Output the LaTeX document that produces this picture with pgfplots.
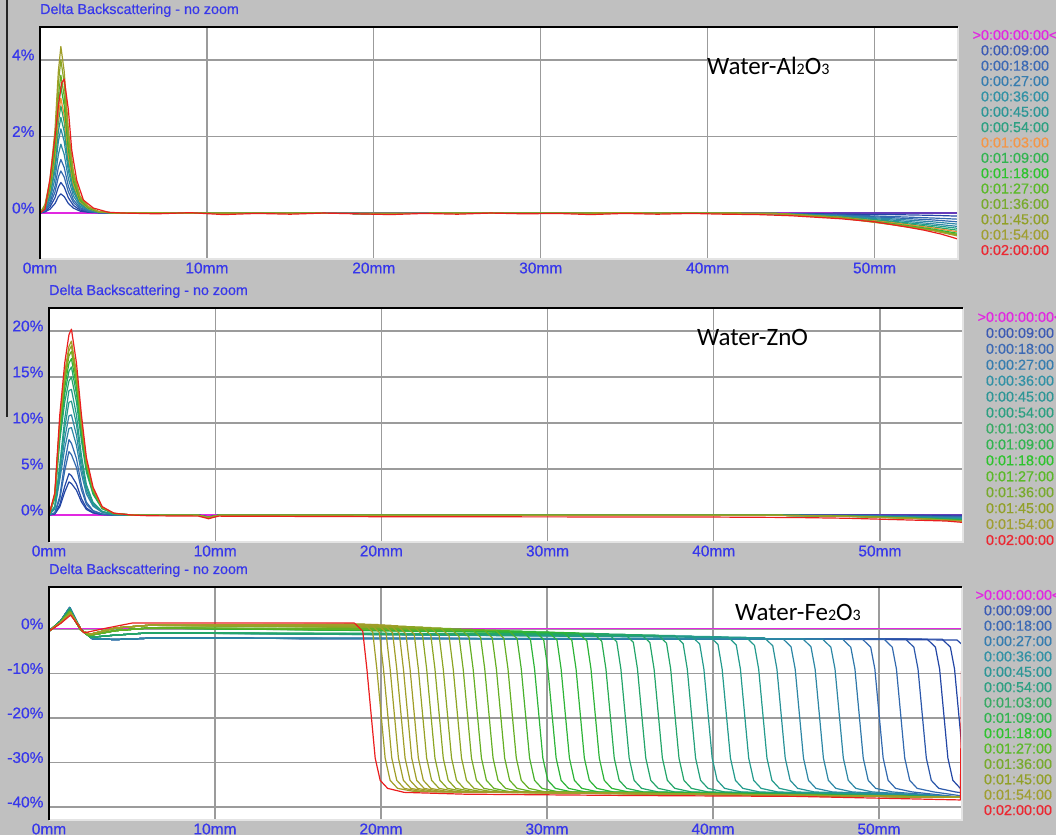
\documentclass[border=0pt]{standalone}
\usepackage{pgfplots}
\pgfplotsset{compat=1.18}
\usepackage{fontspec}
\setmainfont{Liberation Sans}[FakeBold=0.5]
\newfontfamily\calib{Carlito}

\definecolor{bg}{RGB}{192,192,192}
\definecolor{tickblue}{RGB}{55,55,235}
\definecolor{gridgray}{RGB}{155,155,155}
\definecolor{framelight}{RGB}{228,228,228}
\definecolor{cM}{RGB}{225,40,225}
\definecolor{cA}{RGB}{35,70,165}
\definecolor{cB}{RGB}{50,105,175}
\definecolor{cC}{RGB}{45,135,165}
\definecolor{cD}{RGB}{35,155,140}
\definecolor{cE}{RGB}{35,165,105}
\definecolor{cF}{RGB}{45,180,55}
\definecolor{cG}{RGB}{100,175,35}
\definecolor{cH}{RGB}{140,165,35}
\definecolor{cI}{RGB}{160,158,40}
\definecolor{cR}{RGB}{235,30,30}
\definecolor{cO}{RGB}{240,140,50}
% legend text colours
\definecolor{leg0}{RGB}{225,40,225}
\definecolor{leg1}{RGB}{60,90,180}
\definecolor{leg2}{RGB}{60,105,180}
\definecolor{leg3}{RGB}{55,125,175}
\definecolor{leg4}{RGB}{50,145,165}
\definecolor{leg5}{RGB}{45,150,150}
\definecolor{leg6}{RGB}{45,160,130}
\definecolor{leg7}{RGB}{55,170,100}
\definecolor{leg7o}{RGB}{245,150,70}
\definecolor{leg8}{RGB}{50,180,80}
\definecolor{leg9}{RGB}{45,195,45}
\definecolor{leg10}{RGB}{90,185,40}
\definecolor{leg11}{RGB}{120,170,45}
\definecolor{leg12}{RGB}{145,160,40}
\definecolor{leg13}{RGB}{160,158,50}
\definecolor{leg14}{RGB}{235,40,50}

\newcommand\sub[1]{{\fontsize{16}{16}\selectfont #1}}
\newcommand\legfont{\fontsize{14.4}{14.4}\selectfont}
% #1 x centre, #2 y of first entry, #3 step, #4 colour of 0:01:03:00
\newcommand\legendat[4]{%
  \foreach \t/\c [count=\i from 0] in {>0:00:00:00</leg0,0:00:09:00/leg1,0:00:18:00/leg2,0:00:27:00/leg3,0:00:36:00/leg4,0:00:45:00/leg5,0:00:54:00/leg6,0:01:03:00/#4,0:01:09:00/leg8,0:01:18:00/leg9,0:01:27:00/leg10,0:01:36:00/leg11,0:01:45:00/leg12,0:01:54:00/leg13,0:02:00:00/leg14}{%
    \node[text=\c, font=\legfont, inner sep=0pt] at (#1pt,{#2pt-\i*#3pt}) {\t};
  }%
}
\newcommand\frameit[1]{%
  \draw[framelight, line width=1.5pt] (#1.south west) -- (#1.south east) -- (#1.north east);
  \draw[black, line width=2pt] (#1.south west) -- (#1.north west) -- (#1.north east);
}

\pgfplotsset{
  panel/.style={
    scale only axis, anchor=south west,
    xmin=0, xmax=55,
    axis line style={draw=none},
    axis background/.style={fill=white},
    grid=major,
    grid style={draw=gridgray, line width=1.3pt},
    major tick length=0pt,
    xtick={0,10,20,30,40,50},
    xticklabels={0mm,10mm,20mm,30mm,40mm,50mm},
    tick label style={font=\fontsize{15.5}{15.5}\selectfont, text=tickblue},
    yticklabel style={xshift=-2pt, yshift=5pt},
    title={Delta Backscattering - no zoom},
    title style={at={(0,1)}, anchor=base west, yshift=7pt, inner sep=0pt,
                 font=\fontsize{14.3}{14.3}\selectfont, text=tickblue},
    every axis plot/.append style={line width=1.2pt, mark=none, line join=round},
  },
}

\begin{document}
\begin{tikzpicture}
\useasboundingbox (0,0) rectangle (1056pt,835pt);
\clip (0,0) rectangle (1056pt,835pt);
\fill[bg] (0,0) rectangle (1056pt,835pt);
\draw[line width=2pt, black!85] (7pt,835pt) -- (7pt,418pt);

%================ Panel 1 : Water-Al2O3 =================
\begin{axis}[panel, name=ax1, at={(40pt,576pt)}, width=918pt, height=232pt,
  ymin=-1.2, ymax=4.86, ytick={0,2,4}, yticklabels={0\%,2\%,4\%}]
\addplot[cM] coordinates {(0,0)(55,0)};
\addplot[cA] coordinates {(0,0)(0.3,0.03)(0.6,0.1)(0.9,0.25)(1.1,0.43)(1.25,0.5)(1.45,0.43)(1.7,0.25)(2.0,0.13)(2.4,0.05)(2.9,0.02)(3.5,0.01)(4.5,0)(6,0)(20,-0.01)(35,0)(44,-0.01)(48,0)(51,0)(53.5,0)(55,0)};
\addplot[cA] coordinates {(0,0)(0.3,0.04)(0.6,0.16)(0.9,0.4)(1.1,0.68)(1.25,0.8)(1.45,0.68)(1.7,0.4)(2.0,0.2)(2.4,0.08)(2.9,0.03)(3.5,0.01)(4.5,0)(6,0)(20,-0.01)(35,0)(44,-0.01)(48,-0.03)(51,-0.04)(53.5,-0.06)(55,-0.08)};
\addplot[cB] coordinates {(0,0)(0.3,0.06)(0.6,0.22)(0.9,0.55)(1.1,0.94)(1.25,1.1)(1.45,0.94)(1.7,0.55)(2.0,0.28)(2.4,0.11)(2.9,0.04)(3.5,0.01)(4.5,0)(6,0)(20,-0.01)(35,0)(44,-0.01)(48,-0.05)(51,-0.09)(53.5,-0.13)(55,-0.16)};
\addplot[cB] coordinates {(0,0)(0.3,0.07)(0.6,0.28)(0.9,0.7)(1.1,1.19)(1.25,1.4)(1.45,1.19)(1.7,0.7)(2.0,0.35)(2.4,0.14)(2.9,0.06)(3.5,0.01)(4.5,0)(6,0)(20,-0.01)(35,0)(44,-0.01)(48,-0.06)(51,-0.12)(53.5,-0.18)(55,-0.23)};
\addplot[cC] coordinates {(0,0)(0.3,0.09)(0.6,0.36)(0.9,0.9)(1.1,1.53)(1.25,1.8)(1.45,1.53)(1.7,0.9)(2.0,0.45)(2.4,0.18)(2.9,0.07)(3.5,0.02)(4.5,0)(6,0)(20,-0.01)(35,0)(44,-0.01)(48,-0.07)(51,-0.15)(53.5,-0.23)(55,-0.29)};
\addplot[cC] coordinates {(0,0)(0.3,0.11)(0.6,0.44)(0.9,1.1)(1.1,1.87)(1.25,2.2)(1.45,1.87)(1.7,1.1)(2.0,0.55)(2.4,0.22)(2.9,0.09)(3.5,0.02)(4.5,0)(6,0)(20,-0.01)(35,0)(44,-0.01)(48,-0.08)(51,-0.18)(53.5,-0.28)(55,-0.35)};
\addplot[cD] coordinates {(0,0)(0.3,0.13)(0.6,0.5)(0.9,1.25)(1.1,2.13)(1.25,2.5)(1.45,2.13)(1.7,1.25)(2.0,0.63)(2.4,0.25)(2.9,0.1)(3.5,0.03)(4.5,0)(6,0)(20,-0.01)(35,0)(44,-0.01)(48,-0.09)(51,-0.21)(53.5,-0.32)(55,-0.4)};
\addplot[cE] coordinates {(0,0)(0.3,0.14)(0.6,0.56)(0.9,1.4)(1.1,2.38)(1.25,2.8)(1.45,2.38)(1.7,1.4)(2.0,0.7)(2.4,0.28)(2.9,0.11)(3.5,0.03)(4.5,0)(6,0)(20,-0.01)(35,0)(44,-0.01)(48,-0.1)(51,-0.23)(53.5,-0.36)(55,-0.45)};
\addplot[cO] coordinates {(0,0)(0.3,0.15)(0.6,0.6)(0.9,1.5)(1.1,2.55)(1.25,3.0)(1.45,2.55)(1.7,1.5)(2.0,0.75)(2.4,0.3)(2.9,0.12)(3.5,0.03)(4.5,0)(6,0)(20,-0.01)(35,0)(44,-0.01)(48,-0.11)(51,-0.25)(53.5,-0.39)(55,-0.49)};
\addplot[cF] coordinates {(0,0)(0.3,0.17)(0.6,0.66)(0.9,1.65)(1.1,2.81)(1.25,3.3)(1.45,2.81)(1.7,1.65)(2.0,0.83)(2.4,0.33)(2.9,0.13)(3.5,0.03)(4.5,0)(6,0)(20,-0.01)(35,0)(44,-0.01)(48,-0.12)(51,-0.27)(53.5,-0.42)(55,-0.53)};
\addplot[cG] coordinates {(0,0)(0.3,0.18)(0.6,0.72)(0.9,1.8)(1.1,3.06)(1.25,3.6)(1.45,3.06)(1.7,1.8)(2.0,0.9)(2.4,0.36)(2.9,0.14)(3.5,0.04)(4.5,0)(6,0)(20,-0.01)(35,0)(44,-0.01)(48,-0.12)(51,-0.28)(53.5,-0.44)(55,-0.56)};
\addplot[cH] coordinates {(0,0)(0.3,0.2)(0.6,0.8)(0.9,2.0)(1.1,3.4)(1.25,4.0)(1.45,3.4)(1.7,2.0)(2.0,1.0)(2.4,0.4)(2.9,0.16)(3.5,0.04)(4.5,0)(6,0)(20,-0.01)(35,0)(44,-0.01)(48,-0.13)(51,-0.29)(53.5,-0.45)(55,-0.58)};
\addplot[cI] coordinates {(0,0)(0.3,0.22)(0.6,0.87)(0.9,2.18)(1.1,3.7)(1.25,4.35)(1.45,3.7)(1.7,2.18)(2.0,1.09)(2.4,0.44)(2.9,0.17)(3.5,0.04)(4.5,0)(6,0)(20,-0.01)(35,0)(44,-0.01)(48,-0.13)(51,-0.3)(53.5,-0.46)(55,-0.6)};
\addplot[cR] coordinates {(0,0)(0.3,0.1)(0.6,0.9)(0.9,2.0)(1.1,2.8)(1.3,3.4)(1.45,3.5)(1.7,2.7)(1.9,1.65)(2.2,0.86)(2.6,0.34)(3.2,0.13)(4.1,0.02)(5,0)(7,-0.02)(9,0.01)(11,-0.04)(13,-0.01)(15,-0.03)(17,0)(19,-0.02)(21,-0.04)(23,-0.01)(25,-0.03)(27,0)(29,-0.02)(31,-0.01)(33,-0.04)(35,-0.01)(37,-0.03)(39,-0.01)(41,-0.03)(43,-0.04)(45,-0.07)(48,-0.15)(50,-0.23)(52,-0.37)(53,-0.45)(54,-0.55)(55,-0.68)};
\end{axis}
\frameit{ax1}
\node[anchor=base west, font=\calib\fontsize{25}{25}\selectfont, inner sep=0pt] at (707pt,760pt) {Water-Al\sub{2}O\sub{3}};
\legendat{1015}{800}{15.36}{leg7o}

%================ Panel 2 : Water-ZnO =================
\begin{axis}[panel, name=ax2, at={(49pt,293pt)}, width=914pt, height=234pt,
  ymin=-2.93, ymax=22.5, ytick={0,5,10,15,20}, yticklabels={0\%,5\%,10\%,15\%,20\%}]
\addplot[cM] coordinates {(0,0)(55,0)};
\addplot[cA] coordinates {(0,0)(0.35,0.11)(0.65,0.9)(0.95,2.52)(1.2,3.6)(1.35,3.42)(1.65,2.7)(1.95,1.44)(2.25,0.61)(2.65,0.22)(3.2,0.05)(3.9,0)(5,0)(6,0)(9,0)(9.6,-0.2)(10.2,0)(15,0)(25,0)(35,0)(44,0)(48,0)(52,0)(55,0)};
\addplot[cA] coordinates {(0,0)(0.35,0.14)(0.65,1.13)(0.95,3.15)(1.2,4.5)(1.35,4.28)(1.65,3.38)(1.95,1.8)(2.25,0.77)(2.65,0.27)(3.2,0.07)(3.9,0)(5,0)(6,0)(9,0)(9.6,-0.2)(10.2,0)(15,0)(25,0)(35,0)(44,0)(48,-0.02)(52,-0.05)(55,-0.1)};
\addplot[cB] coordinates {(0,0)(0.35,0.21)(0.65,1.73)(0.95,4.83)(1.2,6.9)(1.35,6.56)(1.65,5.18)(1.95,2.76)(2.25,1.17)(2.65,0.41)(3.2,0.1)(3.9,0)(5,0)(6,-0.02)(9,-0.03)(9.6,-0.25)(10.2,-0.03)(15,-0.02)(25,-0.03)(35,-0.03)(44,-0.03)(48,-0.05)(52,-0.12)(55,-0.18)};
\addplot[cB] coordinates {(0,0)(0.35,0.25)(0.65,2.05)(0.95,5.74)(1.2,8.2)(1.35,7.79)(1.65,6.15)(1.95,3.28)(2.25,1.39)(2.65,0.49)(3.2,0.12)(3.9,0)(5,0)(6,-0.02)(9,-0.03)(9.6,-0.25)(10.2,-0.03)(15,-0.02)(25,-0.03)(35,-0.03)(44,-0.03)(48,-0.06)(52,-0.15)(55,-0.24)};
\addplot[cC] coordinates {(0,0)(0.35,0.67)(0.65,3.84)(0.95,7.3)(1.2,9.41)(1.35,9.5)(1.65,7.58)(1.95,4.51)(2.25,2.3)(2.65,0.96)(3.2,0.29)(3.9,0.05)(5,0)(6,-0.02)(9,-0.03)(9.6,-0.25)(10.2,-0.03)(15,-0.02)(25,-0.03)(35,-0.03)(44,-0.03)(48,-0.07)(52,-0.18)(55,-0.3)};
\addplot[cC] coordinates {(0,0)(0.35,0.77)(0.65,4.4)(0.95,8.36)(1.2,10.78)(1.35,10.89)(1.65,8.69)(1.95,5.17)(2.25,2.64)(2.65,1.1)(3.2,0.33)(3.9,0.06)(5,0)(6,-0.02)(9,-0.03)(9.6,-0.25)(10.2,-0.03)(15,-0.02)(25,-0.03)(35,-0.03)(44,-0.03)(48,-0.08)(52,-0.21)(55,-0.36)};
\addplot[cD] coordinates {(0,0)(0.35,0.88)(0.65,5.0)(0.95,9.5)(1.2,12.25)(1.35,12.38)(1.65,9.88)(1.95,5.88)(2.25,3.0)(2.65,1.25)(3.2,0.38)(3.9,0.06)(5,0)(6,-0.02)(9,-0.03)(9.6,-0.25)(10.2,-0.03)(15,-0.02)(25,-0.03)(35,-0.03)(44,-0.03)(48,-0.09)(52,-0.24)(55,-0.42)};
\addplot[cD] coordinates {(0,0)(0.35,0.97)(0.65,5.52)(0.95,10.49)(1.2,13.52)(1.35,13.66)(1.65,10.9)(1.95,6.49)(2.25,3.31)(2.65,1.38)(3.2,0.41)(3.9,0.07)(5,0)(6,-0.02)(9,-0.03)(9.6,-0.25)(10.2,-0.03)(15,-0.02)(25,-0.03)(35,-0.03)(44,-0.03)(48,-0.1)(52,-0.27)(55,-0.47)};
\addplot[cE] coordinates {(0,0)(0.35,1.8)(0.65,8.1)(0.95,12.3)(1.2,14.55)(1.35,15)(1.65,12.3)(1.95,8.1)(2.25,4.65)(2.65,2.25)(3.2,0.68)(3.9,0.15)(5,0)(6,-0.02)(9,-0.03)(9.6,-0.25)(10.2,-0.03)(15,-0.02)(25,-0.03)(35,-0.03)(44,-0.03)(48,-0.11)(52,-0.3)(55,-0.52)};
\addplot[cE] coordinates {(0,0)(0.35,1.93)(0.65,8.69)(0.95,13.2)(1.2,15.62)(1.35,16.1)(1.65,13.2)(1.95,8.69)(2.25,4.99)(2.65,2.42)(3.2,0.72)(3.9,0.16)(5,0)(6,-0.02)(9,-0.03)(9.6,-0.25)(10.2,-0.03)(15,-0.02)(25,-0.03)(35,-0.03)(44,-0.03)(48,-0.12)(52,-0.32)(55,-0.56)};
\addplot[cF] coordinates {(0,0)(0.35,2.04)(0.65,9.18)(0.95,13.94)(1.2,16.49)(1.35,17)(1.65,13.94)(1.95,9.18)(2.25,5.27)(2.65,2.55)(3.2,0.77)(3.9,0.17)(5,0)(6,-0.02)(9,-0.03)(9.6,-0.25)(10.2,-0.03)(15,-0.02)(25,-0.03)(35,-0.03)(44,-0.03)(48,-0.13)(52,-0.34)(55,-0.6)};
\addplot[cG] coordinates {(0,0)(0.35,2.14)(0.65,9.61)(0.95,14.6)(1.2,17.27)(1.35,17.8)(1.65,14.6)(1.95,9.61)(2.25,5.52)(2.65,2.67)(3.2,0.8)(3.9,0.18)(5,0)(6,-0.02)(9,-0.03)(9.6,-0.25)(10.2,-0.03)(15,-0.02)(25,-0.03)(35,-0.03)(44,-0.03)(48,-0.13)(52,-0.35)(55,-0.62)};
\addplot[cH] coordinates {(0,0)(0.35,2.21)(0.65,9.94)(0.95,15.09)(1.2,17.85)(1.35,18.4)(1.65,15.09)(1.95,9.94)(2.25,5.7)(2.65,2.76)(3.2,0.83)(3.9,0.18)(5,0)(6,-0.02)(9,-0.03)(9.6,-0.25)(10.2,-0.03)(15,-0.02)(25,-0.03)(35,-0.03)(44,-0.03)(48,-0.14)(52,-0.36)(55,-0.64)};
\addplot[cI] coordinates {(0,0)(0.35,2.27)(0.65,10.21)(0.95,15.5)(1.2,18.33)(1.35,18.9)(1.65,15.5)(1.95,10.21)(2.25,5.86)(2.65,2.84)(3.2,0.85)(3.9,0.19)(5,0)(6,-0.02)(9,-0.03)(9.6,-0.25)(10.2,-0.03)(15,-0.02)(25,-0.03)(35,-0.03)(44,-0.03)(48,-0.14)(52,-0.37)(55,-0.66)};
\addplot[cR] coordinates {(0,0)(0.35,2.42)(0.65,10.91)(0.95,16.56)(1.2,19.59)(1.35,20.2)(1.65,16.56)(1.95,10.91)(2.25,6.26)(2.65,3.03)(3.2,0.91)(3.9,0.2)(5,0)(6,-0.08)(9,-0.12)(9.6,-0.4)(10.2,-0.12)(20,-0.18)(30,-0.2)(40,-0.22)(45,-0.27)(48,-0.35)(52,-0.55)(54,-0.65)(55,-0.8)};
\end{axis}
\frameit{ax2}
\node[anchor=base west, font=\calib\fontsize{25}{25}\selectfont, inner sep=0pt] at (697pt,489pt) {Water-ZnO};
\legendat{1020}{518}{15.93}{leg7}

%================ Panel 3 : Water-Fe2O3 =================
\begin{axis}[panel, name=ax3, at={(49pt,15pt)}, width=913pt, height=233pt,
  ymin=-42.9, ymax=9.4, ytick={-40,-30,-20,-10,0}, yticklabels={-40\%,-30\%,-20\%,-10\%,0\%}]
\addplot[cM] coordinates {(0,0)(55,0)};
% earliest scan, front not yet in range
\addplot[cA] coordinates {(0,-0.5)(0.7,1.8)(1.25,4.8)(1.9,0)(2.6,-2.2)(4,-2.4)(6,-2.1)(30,-2.2)(45,-2.3)(54.7,-2.5)(55,-3.5)};
% blue group
\addplot[cA] coordinates {(0,-0.5)(0.7,1.8)(1.25,4.8)(1.9,0)(2.6,-2.2)(4,-2.4)(6,-2.1)(53.8,-2.3)(54.3,-4.1)(54.55,-9)(54.8,-19)(55,-27)};
\addplot[cA] coordinates {(0,-0.5)(0.7,1.8)(1.25,4.8)(1.9,0)(2.6,-2.2)(4,-2.4)(6,-2.1)(52.9,-2.3)(53.4,-4.1)(53.65,-9)(53.9,-19)(54.15,-29)(54.45,-34)(54.9,-35.8)(55,-36)};
\addplot[cA!50!cB] coordinates {(0,-0.5)(0.7,1.8)(1.25,4.8)(1.9,0)(2.6,-2.2)(4,-2.4)(6,-2.1)(51.6,-2.3)(52.1,-4.1)(52.35,-9)(52.6,-19)(52.85,-29)(53.15,-34)(53.6,-35.8)(54.6,-36.6)(55,-36.8)};
\addplot[cB] coordinates {(0,-0.5)(0.7,1.8)(1.25,4.8)(1.9,0)(2.6,-2.2)(4,-2.4)(6,-2.1)(50.3,-2.3)(50.8,-4.1)(51.05,-9)(51.3,-19)(51.55,-29)(51.85,-34)(52.3,-35.8)(53.3,-36.6)(55,-37.5)};
\addplot[cB] coordinates {(0,-0.5)(0.7,1.8)(1.25,4.8)(1.9,0)(2.6,-2.2)(4,-2.4)(6,-2.1)(49,-2.3)(49.5,-4.1)(49.75,-9)(50,-19)(50.25,-29)(50.55,-34)(51,-35.8)(52,-36.6)(55,-37.8)};
\addplot[cB!50!cC] coordinates {(0,-0.5)(0.7,1.8)(1.25,4.8)(1.9,0)(2.6,-2.2)(4,-2.4)(6,-2.1)(47.8,-2.3)(48.3,-4.1)(48.55,-9)(48.8,-19)(49.05,-29)(49.35,-34)(49.8,-35.8)(50.8,-36.6)(55,-37.8)};
\addplot[cC] coordinates {(0,-0.5)(0.7,1.8)(1.25,4.8)(1.9,0)(2.6,-2.2)(4,-2.4)(6,-2.1)(46.6,-2.3)(47.1,-4.1)(47.35,-9)(47.6,-19)(47.85,-29)(48.15,-34)(48.6,-35.8)(49.6,-36.6)(55,-37.8)};
\addplot[cC] coordinates {(0,-0.5)(0.7,1.8)(1.25,4.8)(1.9,0)(2.6,-2.2)(4,-2.4)(6,-2.1)(45.4,-2.2)(45.9,-4.0)(46.15,-9)(46.4,-19)(46.65,-29)(46.95,-34)(47.4,-35.8)(48.4,-36.6)(55,-37.8)};
\addplot[cC] coordinates {(0,-0.5)(0.7,1.8)(1.25,4.8)(1.9,0)(2.6,-2.2)(4,-2.4)(6,-2.1)(44.2,-2.2)(44.7,-4.0)(44.95,-9)(45.2,-19)(45.45,-29)(45.75,-34)(46.2,-35.8)(47.2,-36.6)(55,-37.8)};
% teal group
\addplot[cC!50!cD] coordinates {(0,-0.5)(0.7,1.7)(1.25,4.4)(1.9,-0.1)(2.5,-1.9)(4,-1.4)(6,-0.9)(43.1,-2.0)(43.6,-3.8)(43.85,-9)(44.1,-19)(44.35,-29)(44.65,-34)(45.1,-35.8)(46.1,-36.6)(55,-37.8)};
\addplot[cD] coordinates {(0,-0.5)(0.7,1.7)(1.25,4.4)(1.9,-0.1)(2.5,-1.9)(4,-1.4)(6,-0.9)(42,-1.9)(42.5,-3.7)(42.75,-9)(43,-19)(43.25,-29)(43.55,-34)(44,-35.8)(45,-36.6)(55,-37.8)};
\addplot[cD] coordinates {(0,-0.5)(0.7,1.7)(1.25,4.4)(1.9,-0.1)(2.5,-1.9)(4,-1.4)(6,-0.9)(40.9,-1.8)(41.4,-3.6)(41.65,-9)(41.9,-19)(42.15,-29)(42.45,-34)(42.9,-35.8)(43.9,-36.6)(55,-37.8)};
\addplot[cD] coordinates {(0,-0.5)(0.7,1.7)(1.25,4.4)(1.9,-0.1)(2.5,-1.9)(4,-1.4)(6,-0.9)(39.8,-1.7)(40.3,-3.5)(40.55,-9)(40.8,-19)(41.05,-29)(41.35,-34)(41.8,-35.8)(42.8,-36.6)(55,-37.8)};
\addplot[cD] coordinates {(0,-0.5)(0.7,1.7)(1.25,4.4)(1.9,-0.1)(2.5,-1.9)(4,-1.4)(6,-0.9)(38.7,-1.6)(39.2,-3.4)(39.45,-9)(39.7,-19)(39.95,-29)(40.25,-34)(40.7,-35.8)(41.7,-36.6)(55,-37.8)};
\addplot[cD!50!cE] coordinates {(0,-0.5)(0.7,1.7)(1.25,4.4)(1.9,-0.1)(2.5,-1.9)(4,-1.4)(6,-0.9)(37.7,-1.5)(38.2,-3.3)(38.45,-9)(38.7,-19)(38.95,-29)(39.25,-34)(39.7,-35.8)(40.7,-36.6)(55,-37.8)};
\addplot[cE] coordinates {(0,-0.5)(0.7,1.7)(1.25,4.4)(1.9,-0.1)(2.5,-1.9)(4,-1.4)(6,-0.9)(36.7,-1.4)(37.2,-3.2)(37.45,-9)(37.7,-19)(37.95,-29)(38.25,-34)(38.7,-35.8)(39.7,-36.6)(55,-37.8)};
\addplot[cE] coordinates {(0,-0.5)(0.7,1.7)(1.25,4.4)(1.9,-0.1)(2.5,-1.9)(4,-1.4)(6,-0.9)(35.7,-1.3)(36.2,-3.1)(36.45,-9)(36.7,-19)(36.95,-29)(37.25,-34)(37.7,-35.8)(38.7,-36.6)(55,-37.8)};
\addplot[cE] coordinates {(0,-0.5)(0.7,1.7)(1.25,4.4)(1.9,-0.1)(2.5,-1.9)(4,-1.4)(6,-0.9)(34.7,-1.2)(35.2,-3.0)(35.45,-9)(35.7,-19)(35.95,-29)(36.25,-34)(36.7,-35.8)(37.7,-36.6)(55,-37.8)};
\addplot[cE] coordinates {(0,-0.5)(0.7,1.7)(1.25,4.4)(1.9,-0.1)(2.5,-1.9)(4,-1.4)(6,-0.9)(33.7,-1.1)(34.2,-2.9)(34.45,-9)(34.7,-19)(34.95,-29)(35.25,-34)(35.7,-35.8)(36.7,-36.6)(55,-37.8)};
% green group
\addplot[cE!50!cF] coordinates {(0,-0.5)(0.7,1.5)(1.25,3.9)(1.9,-0.2)(2.4,-1.5)(4,-0.4)(6,0.2)(32.8,-1.0)(33.3,-2.8)(33.55,-9)(33.8,-19)(34.05,-29)(34.35,-34)(34.8,-35.8)(35.8,-36.6)(55,-37.8)};
\addplot[cF] coordinates {(0,-0.5)(0.7,1.5)(1.25,3.9)(1.9,-0.2)(2.4,-1.5)(4,-0.4)(6,0.2)(31.9,-0.9)(32.4,-2.7)(32.65,-9)(32.9,-19)(33.15,-29)(33.45,-34)(33.9,-35.8)(34.9,-36.6)(55,-37.8)};
\addplot[cF] coordinates {(0,-0.5)(0.7,1.5)(1.25,3.9)(1.9,-0.2)(2.4,-1.5)(4,-0.4)(6,0.2)(31,-0.8)(31.5,-2.6)(31.75,-9)(32,-19)(32.25,-29)(32.55,-34)(33,-35.8)(34,-36.6)(55,-37.8)};
\addplot[cF] coordinates {(0,-0.5)(0.7,1.5)(1.25,3.9)(1.9,-0.2)(2.4,-1.5)(4,-0.4)(6,0.2)(30.1,-0.7)(30.6,-2.5)(30.85,-9)(31.1,-19)(31.35,-29)(31.65,-34)(32.1,-35.8)(33.1,-36.6)(55,-37.8)};
\addplot[cF] coordinates {(0,-0.5)(0.7,1.5)(1.25,3.9)(1.9,-0.2)(2.4,-1.5)(4,-0.4)(6,0.2)(29.3,-0.6)(29.8,-2.4)(30.05,-9)(30.3,-19)(30.55,-29)(30.85,-34)(31.3,-35.8)(32.3,-36.6)(55,-37.8)};
\addplot[cF] coordinates {(0,-0.5)(0.7,1.5)(1.25,3.9)(1.9,-0.2)(2.4,-1.5)(4,-0.4)(6,0.2)(28.5,-0.5)(29,-2.3)(29.25,-9)(29.5,-19)(29.75,-29)(30.05,-34)(30.5,-35.8)(31.5,-36.6)(55,-37.8)};
\addplot[cF!50!cG] coordinates {(0,-0.5)(0.7,1.5)(1.25,3.9)(1.9,-0.2)(2.4,-1.5)(4,-0.4)(6,0.2)(27.7,-0.4)(28.2,-2.2)(28.45,-9)(28.7,-19)(28.95,-29)(29.25,-34)(29.7,-35.8)(30.7,-36.6)(55,-37.8)};
\addplot[cG] coordinates {(0,-0.5)(0.7,1.5)(1.25,3.9)(1.9,-0.2)(2.4,-1.5)(4,-0.4)(6,0.2)(26.9,-0.3)(27.4,-2.1)(27.65,-9)(27.9,-19)(28.15,-29)(28.45,-34)(28.9,-35.8)(29.9,-36.6)(55,-37.8)};
\addplot[cG] coordinates {(0,-0.5)(0.7,1.5)(1.25,3.9)(1.9,-0.2)(2.4,-1.5)(4,-0.4)(6,0.2)(26.2,-0.2)(26.7,-2.0)(26.95,-9)(27.2,-19)(27.45,-29)(27.75,-34)(28.2,-35.8)(29.2,-36.6)(55,-37.8)};
\addplot[cG] coordinates {(0,-0.5)(0.7,1.5)(1.25,3.9)(1.9,-0.2)(2.4,-1.5)(4,-0.4)(6,0.2)(25.5,-0.1)(26,-1.9)(26.25,-9)(26.5,-19)(26.75,-29)(27.05,-34)(27.5,-35.8)(28.5,-36.6)(55,-37.8)};
\addplot[cG] coordinates {(0,-0.5)(0.7,1.5)(1.25,3.9)(1.9,-0.2)(2.4,-1.5)(4,-0.4)(6,0.2)(24.8,0)(25.3,-1.8)(25.55,-9)(25.8,-19)(26.05,-29)(26.35,-34)(26.8,-35.8)(27.8,-36.6)(55,-37.8)};
% olive group
\addplot[cG!50!cH] coordinates {(0,-0.5)(0.7,1.4)(1.3,3.6)(2,-0.5)(2.5,-1.2)(4,0.2)(6,0.8)(24.2,0.1)(24.7,-1.7)(24.95,-9)(25.2,-19)(25.45,-29)(25.75,-34)(26.2,-35.8)(27.2,-36.5)(55,-37.8)};
\addplot[cH] coordinates {(0,-0.5)(0.7,1.4)(1.3,3.6)(2,-0.5)(2.5,-1.2)(4,0.2)(6,0.8)(23.6,0.2)(24.1,-1.6)(24.35,-9)(24.6,-19)(24.85,-29)(25.15,-34)(25.6,-35.8)(26.6,-36.5)(55,-37.8)};
\addplot[cH] coordinates {(0,-0.5)(0.7,1.4)(1.3,3.6)(2,-0.5)(2.5,-1.2)(4,0.2)(6,0.8)(23,0.3)(23.5,-1.5)(23.75,-9)(24,-19)(24.25,-29)(24.55,-34)(25,-35.8)(26,-36.5)(55,-37.8)};
\addplot[cH] coordinates {(0,-0.5)(0.7,1.4)(1.3,3.6)(2,-0.5)(2.5,-1.2)(4,0.2)(6,0.8)(22.5,0.4)(23,-1.4)(23.25,-9)(23.5,-19)(23.75,-29)(24.05,-34)(24.5,-35.8)(25.5,-36.5)(55,-37.8)};
\addplot[cH] coordinates {(0,-0.5)(0.7,1.4)(1.3,3.6)(2,-0.5)(2.5,-1.2)(4,0.2)(6,0.8)(22,0.5)(22.5,-1.3)(22.75,-9)(23,-19)(23.25,-29)(23.55,-34)(24,-35.8)(25,-36.5)(55,-37.8)};
\addplot[cH!50!cI] coordinates {(0,-0.5)(0.7,1.4)(1.3,3.6)(2,-0.5)(2.5,-1.2)(4,0.2)(6,0.8)(21.5,0.6)(22,-1.2)(22.25,-9)(22.5,-19)(22.75,-29)(23.05,-34)(23.5,-35.8)(24.5,-36.5)(55,-37.8)};
\addplot[cI] coordinates {(0,-0.5)(0.7,1.4)(1.3,3.6)(2,-0.5)(2.5,-1.2)(4,0.2)(6,0.8)(21,0.7)(21.5,-1.1)(21.75,-9)(22,-19)(22.25,-29)(22.55,-34)(23,-35.8)(24,-36.5)(55,-37.8)};
\addplot[cI] coordinates {(0,-0.5)(0.7,1.4)(1.3,3.6)(2,-0.5)(2.5,-1.2)(4,0.2)(6,0.8)(20.6,0.8)(21.1,-1.0)(21.35,-9)(21.6,-19)(21.85,-29)(22.15,-34)(22.6,-35.8)(23.6,-36.5)(55,-37.8)};
\addplot[cI] coordinates {(0,-0.5)(0.7,1.4)(1.3,3.6)(2,-0.5)(2.5,-1.2)(4,0.2)(6,0.8)(20.2,0.9)(20.7,-0.9)(20.95,-9)(21.2,-19)(21.45,-29)(21.75,-34)(22.2,-35.8)(23.2,-36.5)(55,-37.8)};
\addplot[cI] coordinates {(0,-0.5)(0.7,1.4)(1.3,3.6)(2,-0.5)(2.5,-1.2)(4,0.2)(6,0.8)(19.8,1.0)(20.3,-0.8)(20.55,-9)(20.8,-19)(21.05,-29)(21.35,-34)(21.8,-35.8)(22.8,-36.5)(55,-37.8)};
\addplot[cI] coordinates {(0,-0.5)(0.7,1.4)(1.3,3.6)(2,-0.5)(2.5,-1.2)(4,0.2)(6,0.8)(19.4,1.0)(19.9,-0.8)(20.15,-9)(20.4,-19)(20.65,-29)(20.95,-34)(21.4,-35.8)(22.4,-36.5)(55,-37.8)};
\addplot[cI] coordinates {(0,-0.5)(0.7,1.4)(1.3,3.6)(2,-0.5)(2.5,-1.2)(4,0.2)(6,0.8)(19,1.1)(19.5,-0.7)(19.75,-9)(20,-19)(20.25,-29)(20.55,-34)(21,-35.8)(22,-36.5)(55,-37.8)};
% last scan
\addplot[cR] coordinates {(0,-0.5)(0.7,1.2)(1.3,3.1)(2.1,-0.9)(3.5,0.2)(5,1.3)(18.4,1.3)(18.9,-0.5)(19.15,-9)(19.4,-19)(19.65,-29)(19.95,-34)(20.4,-35.8)(21.4,-36.7)(25,-37.1)(35,-37.4)(45,-37.6)(50,-38)(54.9,-38.4)(55,0)};
\end{axis}
\frameit{ax3}
\node[anchor=base west, font=\calib\fontsize{25}{25}\selectfont, inner sep=0pt] at (735pt,214pt) {Water-Fe\sub{2}O\sub{3}};
\legendat{1018}{240}{15.36}{leg7}
\end{tikzpicture}
\end{document}
